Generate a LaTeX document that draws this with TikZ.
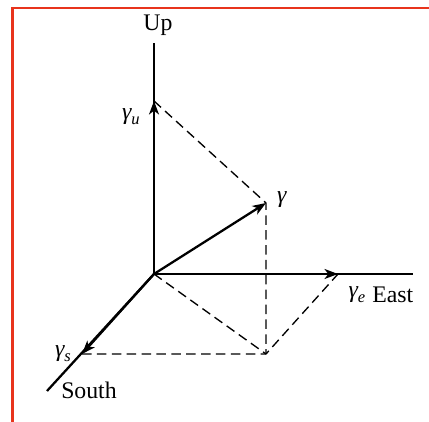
\documentclass[tikz,border=0pt]{standalone}
\usepackage{fontspec}
\setmainfont{Liberation Serif}
\usepackage{tikz}
\usetikzlibrary{positioning,arrows.meta}
\definecolor{cframe}{HTML}{E8341C}
\newcommand{\gcomp}[1]{\textit{γ}\kern-0.3pt\raisebox{-2.2pt}{\fontsize{8}{9}\selectfont\textit{#1}}}
\tikzset{
  axis/.style={line width=1.1pt},
  comp/.style={-{Stealth[length=6.5pt,width=4.8pt,inset=1.8pt]}, line width=1.1pt},
  proj/.style={dash pattern=on 4.6pt off 2.6pt, line width=0.65pt},
  lbl/.style={inner sep=1pt, font=\fontsize{11.5}{13}\selectfont},
}
\begin{document}
\begin{tikzpicture}[x=0.017cm, y=-0.017cm]
    \useasboundingbox (0,0) rectangle (429,422);
    \draw[cframe, line width=1pt] (12.5,422) -- (12.5,8) -- (429,8);
    % points
    \coordinate (O) at (154,274);
    \coordinate (upend) at (154,43);
    \coordinate (eastend) at (413,274);
    \coordinate (southend) at (47,391);
    \coordinate (u) at (154,101);
    \coordinate (e) at (338,274);
    \coordinate (s) at (82,354);
    \coordinate (g) at (266,203);
    \coordinate (gnd) at (266,354);
    % axes
    \draw[axis] (O) -- (upend);
    \draw[axis] (O) -- (eastend);
    \draw[axis] (O) -- (southend);
    % components
    \draw[comp] (O) -- (u);
    \draw[comp] (O) -- (e);
    \draw[comp] (O) -- (s);
    \draw[comp] (O) -- (g);
    % projections
    \draw[proj] (u) -- (g) -- (gnd);
    \draw[proj] (O) -- (gnd);
    \draw[proj] (s) -- (gnd) -- (e);
    % labels
    \node[lbl] (uplbl) at (158,25) {Up};
    \node[lbl] (gu) at (131,117) {\gcomp{u}};
    \node[lbl] (gam) at (282,200) {\textit{γ}};
    \node[lbl] (ge) at (357,295) {\gcomp{e}};
    \node[lbl, right=1pt of ge] (east) {East};
    \node[lbl] (gs) at (63,354) {\gcomp{s}};
    \node[lbl] (south) at (89,390) {South};
\end{tikzpicture}
\end{document}
